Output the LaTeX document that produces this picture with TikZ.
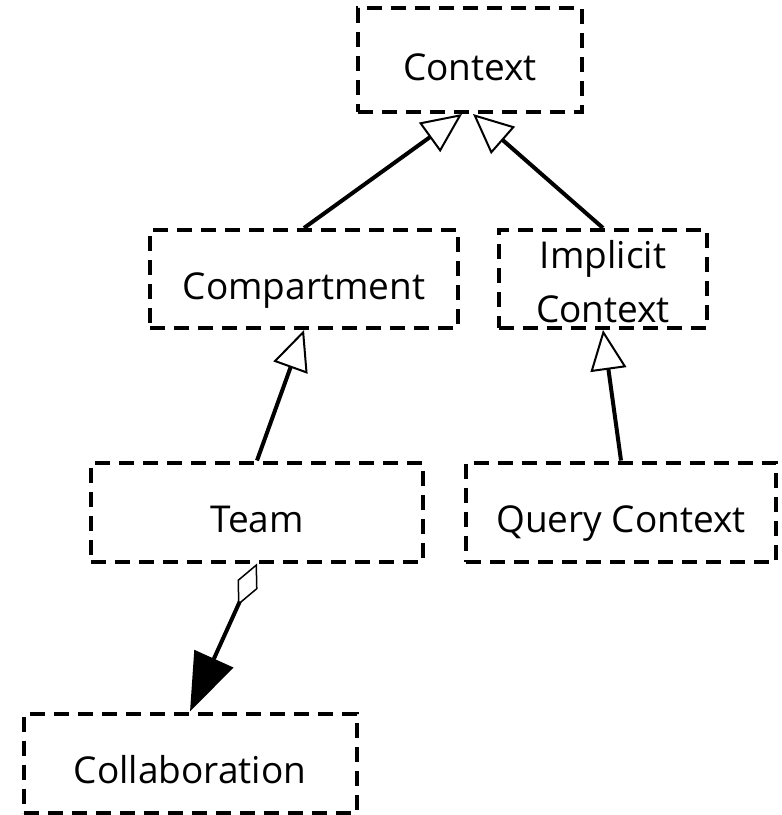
\documentclass[tikz,border=0pt]{standalone}
\usepackage{fontspec}
\setmainfont{Open Sans}
\usetikzlibrary{arrows.meta}
\begin{document}
\begin{tikzpicture}[x=1pt,y=-1pt]
          \tikzstyle{every node}=[draw,line width=4pt,dash pattern=on 15pt off 9pt,font=\fontsize{37}{54}\selectfont,inner sep=0pt,text height=40pt,text depth=0pt];
          \tikzstyle{gen}=[line width=4pt,-{Triangle[open,length=40pt,width=36pt,line width=2pt]}];
          \useasboundingbox (0,0) rectangle (782,815);
          % boxes
          \node (context) at (470,60) [minimum width=224pt,minimum height=104pt] {Context};
          \node (compartment) at (304,279) [minimum width=308pt,minimum height=98pt] {Compartment};
          \node (implicit) at (603,279) [minimum width=208pt,minimum height=98pt,align=center,text height=86pt] {Implicit\\Context};
          \node (team) at (257,512) [minimum width=332pt,minimum height=99pt] {Team};
          \node (query) at (621,512) [minimum width=310pt,minimum height=99pt] {Query Context};
          \node (collaboration) at (190,763) [minimum width=333pt,minimum height=99pt] {Collaboration};
          % connectors
          \draw[gen] (compartment.north)--([xshift=-8pt]context.south);
          \draw[gen] (implicit.north)--([xshift=3pt]context.south);
          \draw[gen] (team.north)--(compartment.south);
          \draw[gen] (query.north)--(implicit.south);
          \draw[line width=4pt,{Diamond[open,length=46pt,width=22pt,line width=1.5pt]}-{Triangle[length=58pt,width=42pt]}]
          (team.south)--(collaboration.north);
      \end{tikzpicture}
\end{document}
